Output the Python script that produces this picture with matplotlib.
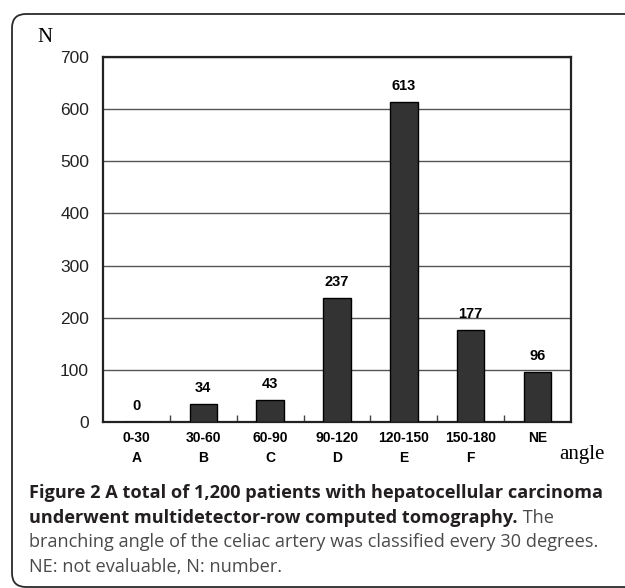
import matplotlib

matplotlib.use('agg')
import matplotlib.pyplot as plt
from matplotlib.patches import FancyBboxPatch

# Data
ranges = ['0-30', '30-60', '60-90', '90-120', '120-150', '150-180', 'NE']
letters = ['A', 'B', 'C', 'D', 'E', 'F', '']
counts = [0, 34, 43, 237, 613, 177, 96]
y_ticks = [0, 100, 200, 300, 400, 500, 600, 700]

caption_bold_1 = "Figure 2 A total of 1,200 patients with hepatocellular carcinoma"
caption_bold_2 = "underwent multidetector-row computed tomography."
caption_rest_2 = " The"
caption_lines = ["branching angle of the celiac artery was classified every 30 degrees.",
                 "NE: not evaluable, N: number."]

W, H = 625, 588
fig = plt.figure(figsize=(W / 100, H / 100), dpi=100)

# background axes in pixel units for the rounded frame and the caption
bg = fig.add_axes([0, 0, 1, 1])
bg.set_xlim(0, W)
bg.set_ylim(H, 0)
bg.axis('off')
frame = FancyBboxPatch((12, 14), 700, 573, boxstyle="round,pad=0,rounding_size=14",
                       facecolor='white', edgecolor='#2a2a2a', linewidth=1.3)
bg.add_patch(frame)

serif = ['Liberation Serif', 'DejaVu Serif']
cap_font = ['Open Sans', 'DejaVu Sans']
sans = ['Liberation Sans', 'DejaVu Sans']

ax = fig.add_axes([103 / W, 1 - 422 / H, (571 - 103) / W, (422 - 57) / H])
x = list(range(len(counts)))
ax.bar(x, counts, width=0.41, color='#333333', edgecolor='black', linewidth=1.0, zorder=3)
for xi, c in zip(x, counts):
    ax.annotate(str(c), (xi, c), xytext=(0, 6.5), textcoords='offset points',
                ha='center', va='bottom', fontsize=10.5, fontweight='bold', family=sans)

ax.set_xlim(-0.5, len(counts) - 0.5)
ax.set_ylim(0, 700)
ax.set_yticks(y_ticks)
ax.set_yticklabels([str(v) for v in y_ticks], family=sans, fontsize=12.5)
ax.tick_params(axis='y', length=0, pad=10, colors='#222222')
ax.yaxis.grid(True, color='#555555', linewidth=1.0, zorder=0)
ax.set_axisbelow(True)

# category boundary ticks (inward)
ax.set_xticks([i + 0.5 for i in range(len(counts) - 1)])
ax.set_xticklabels([])
ax.tick_params(axis='x', direction='in', length=5, width=1.0, color='#444444')
for s in ax.spines.values():
    s.set_linewidth(1.6)
    s.set_color('#222222')

for xi, r, l in zip(x, ranges, letters):
    ax.annotate(r, (xi, 0), xytext=(0, -11.5), textcoords='offset points', ha='center',
                va='center', fontsize=10, fontweight='bold', family=sans,
                annotation_clip=False)
    ax.annotate(l, (xi, 0), xytext=(0, -26), textcoords='offset points', ha='center',
                va='center', fontsize=10, fontweight='bold', family=sans,
                annotation_clip=False)

bg.text(45, 38, 'N', family=serif, fontsize=15, ha='center', va='center')
bg.text(582, 455, 'angle', family=serif, fontsize=15, ha='center', va='center')

# caption
cap_size = 13.1
bg.text(29, 493, caption_bold_1, family=cap_font, fontsize=cap_size, fontweight='bold',
        ha='left', va='center', color='#231f20')
t2 = bg.text(29, 518, caption_bold_2, family=cap_font, fontsize=cap_size, fontweight='bold',
             ha='left', va='center', color='#231f20')
fig.canvas.draw()
bb = t2.get_window_extent(renderer=fig.canvas.get_renderer())
x_end = bg.transData.inverted().transform((bb.x1, bb.y0))[0]
bg.text(x_end, 518, caption_rest_2, family=cap_font, fontsize=cap_size,
        ha='left', va='center', color='#4a4a4a')
for i, line in enumerate(caption_lines):
    bg.text(29, 542 + 25 * i, line, family=cap_font, fontsize=cap_size,
            ha='left', va='center', color='#4a4a4a')

fig.savefig('out.png', dpi=100)
